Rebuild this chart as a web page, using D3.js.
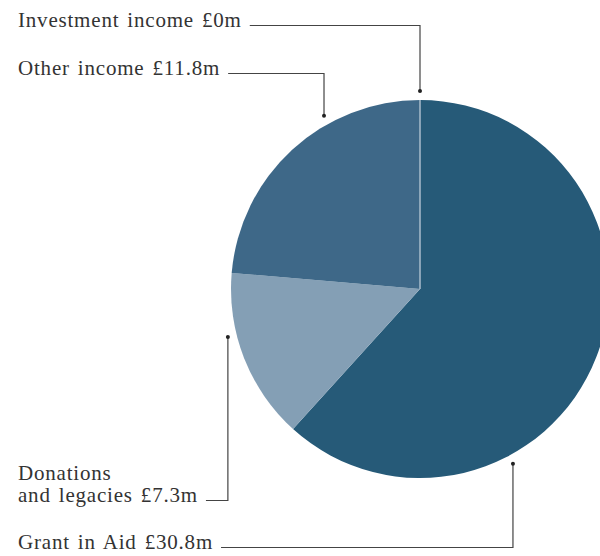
<!DOCTYPE html>
<html>
<head>
<meta charset="utf-8">
<script src="https://cdn.jsdelivr.net/npm/d3@7"></script>
<style>
  html, body { margin: 0; padding: 0; background: #fff; }
  svg { display: block; }
  .lbl { font-family: "Liberation Serif", "DejaVu Serif", serif; font-size: 21px; letter-spacing: 0.8px; word-spacing: 2px; fill: #333; }
</style>
</head>
<body>
<div id="chart"></div>
<script>
// Income sources, £m
const categories = ["Grant in Aid", "Donations and legacies", "Other income", "Investment income"];
const values = [30.8, 7.3, 11.8, 0];
const valueLabels = ["£30.8m", "£7.3m", "£11.8m", "£0m"];
const colors = ["#265a78", "#849fb5", "#3e6888", "#3e6888"];

// Label text lines for each category
const labelLines = [
  ["Grant in Aid £30.8m"],
  ["Donations", "and legacies £7.3m"],
  ["Other income £11.8m"],
  ["Investment income £0m"]
];
// Leader layout: anchor angle (deg, clockwise from top) and label baseline
const leaderAngle = [152, 256, 331, 0];
const labelBaseline = [549, 502, 75, 27];

const W = 600, H = 556;
const cx = 420, cy = 289, R = 189, rAnchor = 198;

const svg = d3.select("#chart").append("svg").attr("width", W).attr("height", H);

const pie = d3.pie().sort(null).value(d => d)(values);
const arc = d3.arc().innerRadius(0).outerRadius(R);

const g = svg.append("g").attr("transform", `translate(${cx},${cy})`);
g.selectAll("path.slice")
  .data(pie)
  .join("path")
  .attr("class", "slice")
  .attr("d", arc)
  .attr("fill", (d, i) => colors[i])
  .attr("stroke", (d, i) => values[i] === 0 ? "#a9bccb" : "none")
  .attr("stroke-width", 1);

// Labels with elbow leader lines
const labels = svg.append("g");
labelLines.forEach((lines, i) => {
  const a = leaderAngle[i] * Math.PI / 180;
  const ax = cx + rAnchor * Math.sin(a);
  const ay = cy - rAnchor * Math.cos(a);
  const base = labelBaseline[i];
  const lineH = 22;
  const y0 = base - (lines.length - 1) * lineH;
  const t = labels.append("text").attr("class", "lbl").attr("x", 18).attr("y", y0);
  lines.forEach((s, k) => {
    t.append("tspan").attr("x", 18).attr("y", y0 + k * lineH).text(s);
  });
  const last = t.selectAll("tspan").nodes()[lines.length - 1];
  const tw = last.getComputedTextLength();
  const lx = 18 + tw + 8;
  const ly = base - 1.5;
  labels.append("path")
    .attr("d", `M${lx},${ly}H${ax}V${ay}`)
    .attr("fill", "none")
    .attr("stroke", "#444")
    .attr("stroke-width", 1.2);
  labels.append("circle")
    .attr("cx", ax).attr("cy", ay).attr("r", 2)
    .attr("fill", "#222");
});
</script>
</body>
</html>
